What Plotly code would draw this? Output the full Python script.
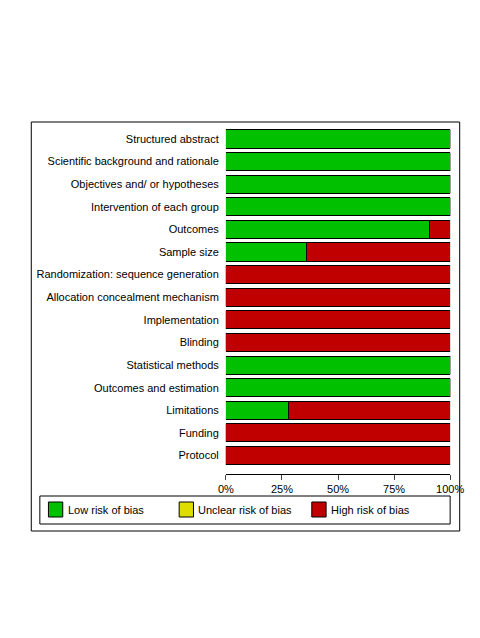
import plotly.graph_objects as go

items = ["Structured abstract", "Scientific background and rationale", "Objectives and/ or hypotheses",
         "Intervention of each group", "Outcomes", "Sample size", "Randomization: sequence generation",
         "Allocation concealment mechanism", "Implementation", "Blinding", "Statistical methods",
         "Outcomes and estimation", "Limitations", "Funding", "Protocol"]
low = [100, 100, 100, 100, 91, 36, 0, 0, 0, 0, 100, 100, 28, 0, 0]
unclear = [0] * 15
high = [0, 0, 0, 0, 9, 64, 100, 100, 100, 100, 0, 0, 72, 100, 100]
tick_vals = [0, 25, 50, 75, 100]
tick_text = ["0%", "25%", "50%", "75%", "100%"]

GREEN, YELLOW, RED = "#00C000", "#DDDD00", "#C00000"
W, H = 480, 638

fig = go.Figure()
for vals, col in [(low, GREEN), (unclear, YELLOW), (high, RED)]:
    fig.add_trace(go.Bar(y=items, x=vals, orientation="h", marker=dict(color=col, line=dict(color="black", width=1)),
                         width=0.8, showlegend=False))

fig.update_layout(
    width=W, height=H, barmode="stack", plot_bgcolor="white", paper_bgcolor="white",
    margin=dict(l=0, r=0, t=0, b=0),
    font=dict(family="Liberation Sans, Arial", size=11, color="black"),
    xaxis=dict(domain=[220 / W, 455 / W], range=[0, 100], tickvals=tick_vals, ticktext=tick_text,
               ticks="outside", ticklen=5, showline=True, linecolor="black", showgrid=False, zeroline=False,
               tickfont=dict(size=11)),
    yaxis=dict(domain=[1 - 466 / H, 1 - 119.7 / H], range=[14.82, -0.5], showgrid=False, ticks="",
               ticksuffix="  ", tickfont=dict(size=11)),
)

def px(x): return x / W
def py(y): return 1 - y / H

shapes = [dict(type="rect", xref="paper", yref="paper", x0=px(16), x1=px(465), y0=py(114), y1=py(523),
               line=dict(color="black", width=1)),
          dict(type="rect", xref="paper", yref="paper", x0=px(25), x1=px(455), y0=py(488), y1=py(516),
               line=dict(color="black", width=1))]
for x0, col, label in [(34, GREEN, "Low risk of bias"), (171, YELLOW, "Unclear risk of bias"), (310, RED, "High risk of bias")]:
    shapes.append(dict(type="rect", xref="paper", yref="paper", x0=px(x0), x1=px(x0 + 15), y0=py(509), y1=py(494),
                       fillcolor=col, line=dict(color="black", width=1)))
    fig.add_annotation(xref="paper", yref="paper", x=px(x0 + 18), y=py(502), text=label, showarrow=False,
                       xanchor="left", yanchor="middle", font=dict(size=11))
fig.update_layout(shapes=shapes)

fig.write_html("out.html")
